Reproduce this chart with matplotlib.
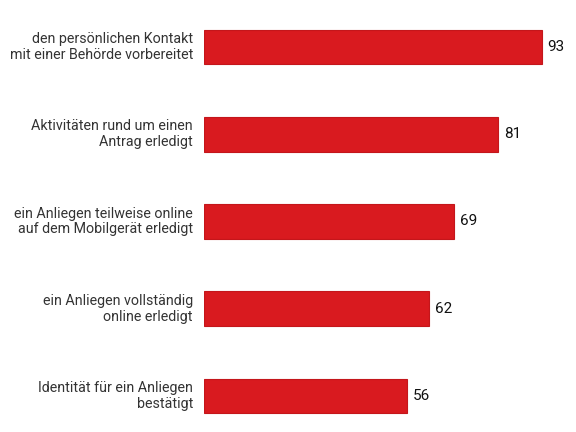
import matplotlib
matplotlib.use("Agg")
import matplotlib.pyplot as plt

categories = [
    "den persönlichen Kontakt\nmit einer Behörde vorbereitet",
    "Aktivitäten rund um einen\nAntrag erledigt",
    "ein Anliegen teilweise online\nauf dem Mobilgerät erledigt",
    "ein Anliegen vollständig\nonline erledigt",
    "Identität für ein Anliegen\nbestätigt",
]
values = [93, 81, 69, 62, 56]

plt.rcParams['font.family'] = ['Roboto', 'DejaVu Sans']

fig = plt.figure(figsize=(5.76, 4.32), dpi=100)
W, H = 576, 432
top_px, bot_px = 20.8, 422.2
ax = fig.add_axes([204 / W, 1 - bot_px / H, 363 / W, (bot_px - top_px) / H])

ypos = list(range(len(categories)))
ax.barh(ypos, values, height=0.4, color="#d91a1f", edgecolor="#c4161b", linewidth=0.8)
ax.set_xlim(0, 100)
ax.set_ylim(4.3, -0.3)

for y, v, lab in zip(ypos, values, categories):
    ax.annotate(lab, xy=(0, y), xytext=(-8, 0), textcoords="offset points",
                ha="right", va="center", fontsize=10.3, color="#333333",
                linespacing=1.15)
    ax.annotate(str(v), xy=(v, y), xytext=(4.3, 0), textcoords="offset points",
                ha="left", va="center", fontsize=11, color="#111111")

ax.axis("off")
fig.savefig("out.png", dpi=100)
